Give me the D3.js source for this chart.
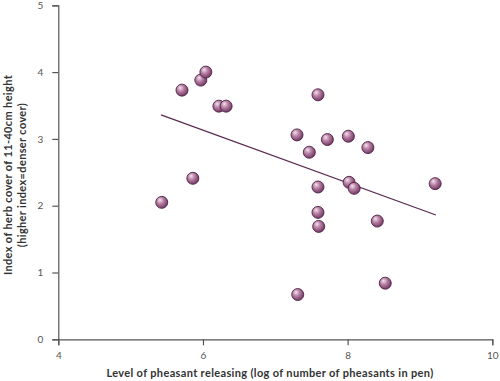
<!DOCTYPE html>
<html><head><meta charset="utf-8">
<script src="https://cdn.jsdelivr.net/npm/d3@7"></script>
<style>body{margin:0;background:#fff}svg{display:block}</style>
</head><body>
<script>
const xVals = [5.43,5.71,5.86,5.97,6.04,6.22,6.32,7.30,7.31,7.47,7.59,7.72,7.59,7.59,7.60,8.01,8.02,8.09,8.28,8.41,8.52,9.21];
const yVals = [2.05,3.73,2.41,3.88,4.00,3.49,3.49,3.06,0.67,2.80,3.66,2.99,2.28,1.90,1.69,3.04,2.35,2.26,2.87,1.77,0.84,2.33];
const trendX = [5.42,9.22];
const trendY = [3.36,1.86];
const xTicks = [4,6,8,10];
const yTicks = [0,1,2,3,4,5];
const xTitle = "Level of pheasant releasing (log of number of pheasants in pen)";
const yTitle = ["Index of herb cover of 11-40cm height","(higher index=denser cover)"];

const W=500,H=381;
const svg=d3.select("body").append("svg").attr("width",W).attr("height",H);
const x=d3.scaleLinear().domain([4,10]).range([58.3,492.3]);
const y=d3.scaleLinear().domain([0,5]).range([339.3,5.3]);

const defs=svg.append("defs");
const g=defs.append("radialGradient").attr("id","ball").attr("cx","0.4").attr("cy","0.38").attr("r","0.65").attr("fx","0.35").attr("fy","0.3");
g.append("stop").attr("offset","0%").attr("stop-color","#f3e3ee");
g.append("stop").attr("offset","45%").attr("stop-color","#b77fa3");
g.append("stop").attr("offset","100%").attr("stop-color","#6e3460");

const font="'Lato','Open Sans',sans-serif";
const xa=svg.append("g").attr("transform","translate(0,339.3)")
  .call(d3.axisBottom(x).tickValues(xTicks).tickSize(6).tickFormat(d3.format("d")));
const ya=svg.append("g").attr("transform","translate(58.3,0)")
  .call(d3.axisLeft(y).tickValues(yTicks).tickSize(6).tickFormat(d3.format("d")));
[xa,ya].forEach(a=>{
  a.select(".domain").attr("stroke","#555").attr("stroke-width",1.2);
  a.selectAll(".tick line").attr("stroke","#555").attr("stroke-width",1.2);
  a.selectAll("text").attr("fill","#555").style("font-family",font).style("font-size","10px");
});
xa.selectAll("text").attr("dy","1.1em");
ya.selectAll("text").attr("dx","-6px");

svg.append("line").attr("x1",x(trendX[0])).attr("y1",y(trendY[0])).attr("x2",x(trendX[1])).attr("y2",y(trendY[1]))
  .attr("stroke","#5a2a50").attr("stroke-width",1.2);

svg.append("g").selectAll("circle").data(xVals.map((v,i)=>[v,yVals[i]])).join("circle")
  .attr("cx",d=>x(d[0])).attr("cy",d=>y(d[1])).attr("r",6)
  .attr("fill","url(#ball)").attr("stroke","#4e2244").attr("stroke-width",0.9);

svg.append("text").attr("x",270).attr("y",377).attr("text-anchor","middle")
  .style("font-family",font).style("font-size","11px").style("letter-spacing","0.35px").style("font-weight","bold").attr("fill","#333").text(xTitle);
const yt=svg.append("text").attr("transform","translate(12,175) rotate(-90)").attr("text-anchor","middle")
  .style("font-family",font).style("font-size","11px").style("letter-spacing","0.35px").style("font-weight","bold").attr("fill","#333");
yt.append("tspan").attr("x",0).attr("dy",0).text(yTitle[0]);
yt.append("tspan").attr("x",0).attr("dy","1.3em").text(yTitle[1]);
</script>
</body></html>
